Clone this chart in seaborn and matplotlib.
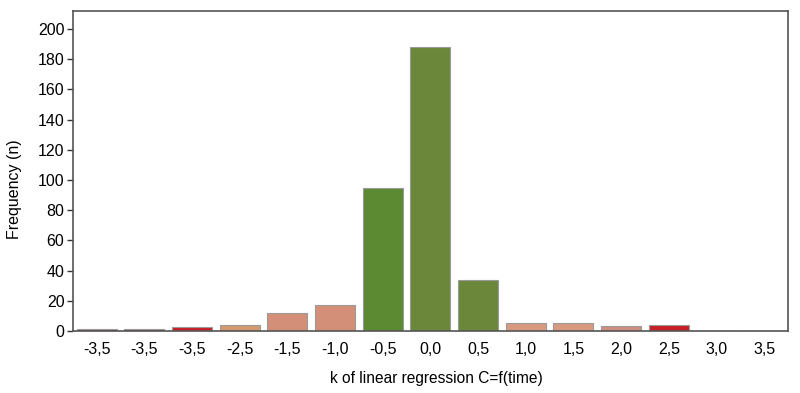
import matplotlib
matplotlib.use("Agg")
import matplotlib.pyplot as plt
import seaborn as sns
import pandas as pd

tick_labels = ["-3,5", "-3,5", "-3,5", "-2,5", "-1,5", "-1,0", "-0,5", "0,0",
               "0,5", "1,0", "1,5", "2,0", "2,5", "3,0", "3,5"]
frequency = [1, 1, 2.5, 4, 12, 17, 95, 188, 34, 5, 5, 3, 4, 0, 0]
bar_colors = ["#8E3A2E", "#8E3A2E", "#C62027", "#D29A6E", "#D48F78", "#D48F78",
              "#5B8A33", "#6B883A", "#6B883A", "#D89A7E", "#D89A7E", "#D08E7E",
              "#C62027", "#D89A7E", "#D89A7E"]

sns.set_theme(style="white")
plt.rcParams['font.family'] = ['Liberation Sans', 'DejaVu Sans']
plt.rcParams['text.color'] = 'black'
plt.rcParams['axes.labelcolor'] = 'black'
plt.rcParams['xtick.color'] = 'black'
plt.rcParams['ytick.color'] = 'black'

df = pd.DataFrame({"pos": [str(i) for i in range(len(frequency))], "freq": frequency})

fig = plt.figure(figsize=(8, 3.93), dpi=100)
ax = fig.add_axes([0.091, 0.158, 0.894, 0.814])
sns.barplot(data=df, x="pos", y="freq", hue="pos", palette=bar_colors, legend=False,
            width=0.84, edgecolor="#9a9a9a", linewidth=0.8, saturation=1, ax=ax)

ax.set_xticks(range(len(tick_labels)))
ax.set_xticklabels(tick_labels, fontsize=11.5)
ax.set_ylim(0, 212)
ax.set_xlim(-0.5, len(tick_labels) - 0.5)
ax.set_yticks(range(0, 201, 20))
ax.tick_params(axis="y", labelsize=11.5, length=4, width=1, color="#333333", left=True, pad=2)
ax.tick_params(axis="x", length=0, pad=8)
ax.set_xlabel("k of linear regression C=f(time)", fontsize=11.2)
ax.xaxis.set_label_coords(0.508, -0.125)
ax.set_ylabel("Frequency (n)", fontsize=11.5)
ax.yaxis.set_label_coords(-0.071, 0.444)
for s in ax.spines.values():
    s.set_color("#555555")
    s.set_linewidth(1.2)
    s.set_visible(True)

fig.savefig("out.png", dpi=100)
